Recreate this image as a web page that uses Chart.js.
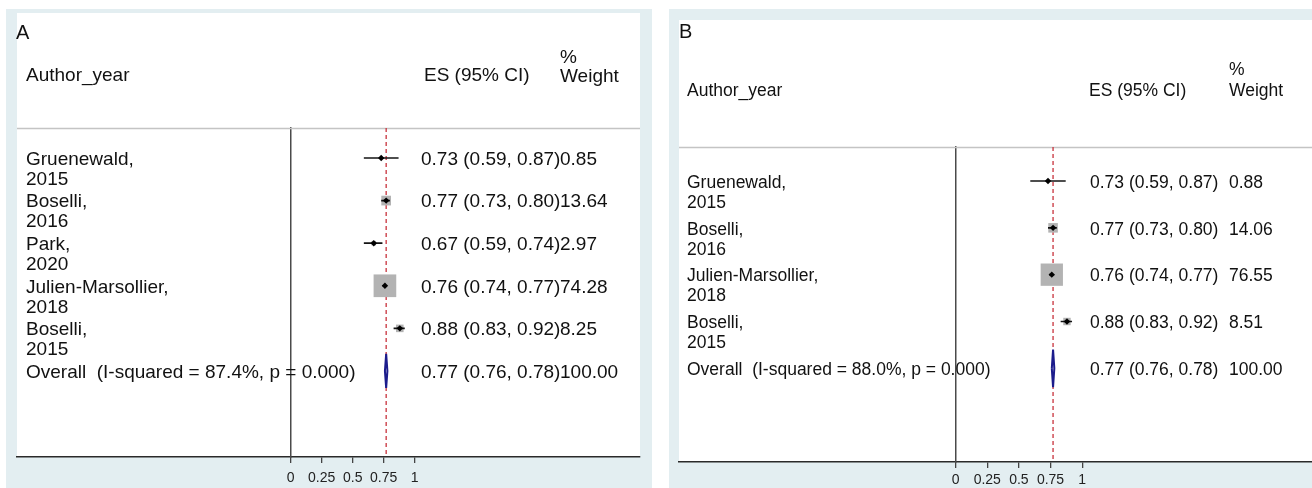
<!DOCTYPE html>
<html>
<head>
<meta charset="utf-8">
<script src="https://cdn.jsdelivr.net/npm/chart.js@4.4.1/dist/chart.umd.min.js"></script>
<style>
  html, body { margin: 0; padding: 0; background: #ffffff; }
  body { width: 1312px; height: 488px; position: relative; overflow: hidden; }
  .frame { position: absolute; background: #e3eef1; }
  .sheet { position: absolute; background: #ffffff; }
  .holder { position: absolute; top: 0; width: 656px; height: 488px; }
  canvas { display: block; }
</style>
</head>
<body>
<div class="frame" style="left:6px;top:9px;width:646px;height:479px"></div>
<div class="sheet" style="left:17px;top:13px;width:623px;height:444px"></div>
<div class="frame" style="left:669px;top:9px;width:643px;height:479px"></div>
<div class="sheet" style="left:679px;top:20px;width:633px;height:442px"></div>
<div class="holder" style="left:0"><canvas id="forestA" width="656" height="488"></canvas></div>
<div class="holder" style="left:656px"><canvas id="forestB" width="656" height="488"></canvas></div>

<script>
// ---- Panel A: five studies ----
const authorsA = ['Gruenewald', 'Boselli', 'Park', 'Julien-Marsollier', 'Boselli'];
const yearsA = [2015, 2016, 2020, 2018, 2015];
const esA = [0.73, 0.77, 0.67, 0.76, 0.88];
const lowerA = [0.59, 0.73, 0.59, 0.74, 0.83];
const upperA = [0.87, 0.80, 0.74, 0.77, 0.92];
const weightA = [0.85, 13.64, 2.97, 74.28, 8.25];
const pooledA = [0.77, 0.76, 0.78, 100.00];   // ES, lower, upper, % weight
const hetA = [87.4, 0.000];                   // I-squared (%), p

// ---- Panel B: four studies ----
const authorsB = ['Gruenewald', 'Boselli', 'Julien-Marsollier', 'Boselli'];
const yearsB = [2015, 2016, 2018, 2015];
const esB = [0.73, 0.77, 0.76, 0.88];
const lowerB = [0.59, 0.73, 0.74, 0.83];
const upperB = [0.87, 0.80, 0.77, 0.92];
const weightB = [0.88, 14.06, 76.55, 8.51];
const pooledB = [0.77, 0.76, 0.78, 100.00];
const hetB = [88.0, 0.000];

const xTickValues = [0, 0.25, 0.5, 0.75, 1];

const FONT = "'Liberation Sans', Arial, sans-serif";

function fmt(v) { return v.toFixed(2); }

function buildForest(canvasId, data, lay) {
  const n = data.es.length;
  const pooledRow = n;

  const ciPoints = [];
  for (let i = 0; i < n; i++) {
    ciPoints.push({ x: data.lower[i], y: i });
    ciPoints.push({ x: data.upper[i], y: i });
    ciPoints.push({ x: data.upper[i], y: null });
  }

  const [pEs, pLo, pHi] = data.pooled;
  const h = lay.diamondHalf;
  const diamond = [
    { x: pLo, y: pooledRow },
    { x: pEs, y: pooledRow - h },
    { x: pHi, y: pooledRow },
    { x: pEs, y: pooledRow + h },
    { x: pLo, y: pooledRow }
  ];

  const textPlugin = {
    id: 'forestText',
    beforeDatasetsDraw(chart) {
      const { ctx, chartArea } = chart;
      ctx.save();
      ctx.strokeStyle = '#c4c4c4';
      ctx.lineWidth = 1.5;
      ctx.beginPath();
      ctx.moveTo(chartArea.left, chartArea.top + 0.5);
      ctx.lineTo(chartArea.right, chartArea.top + 0.5);
      ctx.stroke();
      ctx.restore();
    },
    afterDraw(chart) {
      const { ctx } = chart;
      const yScale = chart.scales.y;
      ctx.save();
      ctx.fillStyle = '#111111';
      ctx.textBaseline = 'middle';
      ctx.textAlign = 'left';

      ctx.font = '20px ' + FONT;
      ctx.fillText(lay.letter, lay.letterX, lay.letterY);

      ctx.font = lay.fontSize + 'px ' + FONT;
      ctx.fillText('Author_year', lay.labelX, lay.headY);
      ctx.fillText('ES (95% CI)', lay.esHeadX, lay.headY);
      ctx.fillText('%', lay.wtX, lay.pctY);
      ctx.fillText('Weight', lay.wtX, lay.headY + lay.wtShift);

      for (let i = 0; i < n; i++) {
        const y = yScale.getPixelForValue(i) + lay.textShift;
        ctx.fillText(data.authors[i] + ',', lay.labelX, y);
        ctx.fillText(String(data.years[i]), lay.labelX, y + lay.lineGap);
        ctx.fillText(fmt(data.es[i]) + ' (' + fmt(data.lower[i]) + ', ' + fmt(data.upper[i]) + ')', lay.esX, y);
        ctx.fillText(fmt(data.weight[i]), lay.wtX, y);
      }
      const yp = yScale.getPixelForValue(pooledRow) + lay.textShift;
      ctx.fillText('Overall  (I-squared = ' + data.het[0].toFixed(1) + '%, p = ' + data.het[1].toFixed(3) + ')', lay.labelX, yp);
      ctx.fillText(fmt(pEs) + ' (' + fmt(pLo) + ', ' + fmt(pHi) + ')', lay.esX, yp);
      ctx.fillText(fmt(data.pooled[3]), lay.wtX, yp);
      ctx.restore();
    }
  };

  return new Chart(document.getElementById(canvasId), {
    type: 'scatter',
    data: {
      datasets: [
        {
          type: 'line',
          label: 'pooled estimate',
          data: [{ x: pEs, y: lay.yMin }, { x: pEs, y: lay.yMax }],
          borderColor: '#c8323c',
          borderWidth: 1.3,
          borderDash: [4, 3],
          pointRadius: 0,
          order: 10
        },
        {
          label: 'weight',
          data: data.es.map((v, i) => ({ x: v, y: i })),
          pointStyle: 'rect',
          pointRadius: (c) => lay.boxScale * Math.sqrt(data.weight[c.dataIndex] || 0) / Math.SQRT2,
          backgroundColor: '#b3b3b3',
          borderWidth: 0,
          order: 6
        },
        {
          type: 'line',
          label: '95% CI',
          data: ciPoints,
          borderColor: '#141414',
          borderWidth: 1.7,
          pointRadius: 0,
          spanGaps: false,
          order: 4
        },
        {
          label: 'ES',
          data: data.es.map((v, i) => ({ x: v, y: i })),
          pointStyle: 'rectRot',
          pointRadius: 3.2,
          backgroundColor: '#000000',
          borderWidth: 0,
          order: 2
        },
        {
          type: 'line',
          label: 'overall',
          data: diamond,
          borderColor: '#1c1c8c',
          borderWidth: 2,
          backgroundColor: '#ffffff',
          fill: 'shape',
          pointRadius: 0,
          tension: 0,
          order: 1
        }
      ]
    },
    options: {
      responsive: false,
      animation: false,
      events: [],
      layout: { padding: lay.padding, autoPadding: false },
      plugins: { legend: { display: false }, tooltip: { enabled: false } },
      scales: {
        x: {
          type: 'linear',
          min: lay.xMin,
          max: lay.xMax,
          afterBuildTicks: (s) => { s.ticks = xTickValues.map((v) => ({ value: v })); },
          afterFit: (s) => {
            s.height = lay.axisHeight;
            s.paddingLeft = 0;
            s.paddingRight = 0;
          },
          ticks: {
            autoSkip: false,
            maxRotation: 0,
            padding: lay.tickPad,
            color: '#222222',
            font: { family: FONT, size: 14 },
            callback: (v) => String(v)
          },
          grid: { drawOnChartArea: false, drawTicks: true, tickLength: 6, color: '#444444', lineWidth: 1.3 },
          border: { display: true, color: '#2a2a2a', width: 1.5 }
        },
        y: {
          type: 'linear',
          reverse: true,
          min: lay.yMin,
          max: lay.yMax,
          position: { x: 0 },
          afterFit: (s) => { s.width = 0; },
          ticks: { display: false },
          grid: { display: false },
          border: { display: true, color: '#4a4a4a', width: 1.5 }
        }
      }
    },
    plugins: [textPlugin]
  });
}

buildForest('forestA',
  { authors: authorsA, years: yearsA, es: esA, lower: lowerA, upper: upperA, weight: weightA, pooled: pooledA, het: hetA },
  {
    padding: { left: 17, right: 16, top: 128, bottom: 0 },
    axisHeight: 31, tickPad: 7,
    xMin: -2.207, xMax: 2.817, yMin: -0.704, yMax: 7.02,
    boxScale: 2.63, diamondHalf: 0.4,
    fontSize: 19,
    letter: 'A', letterX: 16, letterY: 33,
    labelX: 26, esX: 421, esHeadX: 424, wtX: 560,
    headY: 76, pctY: 58, wtShift: 1,
    textShift: 1.5, lineGap: 20
  });

buildForest('forestB',
  { authors: authorsB, years: yearsB, es: esB, lower: lowerB, upper: upperB, weight: weightB, pooled: pooledB, het: hetB },
  {
    padding: { left: 23, right: 0, top: 147, bottom: 0 },
    axisHeight: 26, tickPad: 4,
    xMin: -2.187, xMax: 2.817, yMin: -0.726, yMax: 6.0,
    boxScale: 2.55, diamondHalf: 0.4,
    fontSize: 17.5,
    letter: 'B', letterX: 23, letterY: 32,
    labelX: 31, esX: 434, esHeadX: 433, wtX: 573,
    headY: 91, pctY: 70, wtShift: 0,
    textShift: 2, lineGap: 20
  });
</script>
</body>
</html>
